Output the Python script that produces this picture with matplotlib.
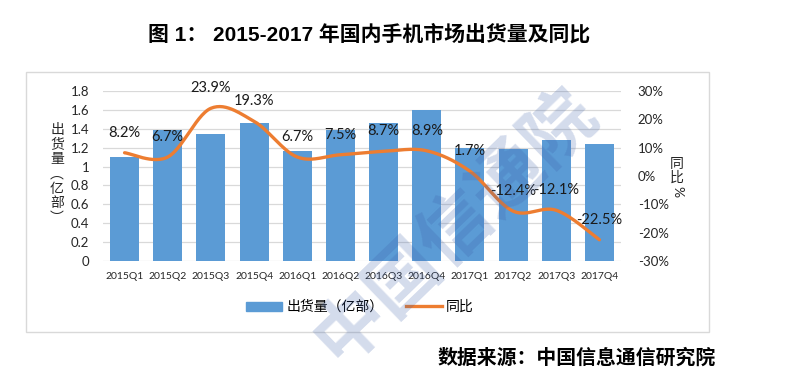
import matplotlib
matplotlib.use("Agg")
import matplotlib.pyplot as plt
import numpy as np
from matplotlib.patches import Rectangle
from matplotlib.lines import Line2D
from matplotlib.patches import Patch

plt.rcParams["font.family"] = ["Lato", "Noto Sans CJK SC", "DejaVu Sans"]

# data
quarters = ["2015Q1", "2015Q2", "2015Q3", "2015Q4", "2016Q1", "2016Q2",
            "2016Q3", "2016Q4", "2017Q1", "2017Q2", "2017Q3", "2017Q4"]
shipments = [1.10, 1.39, 1.345, 1.465, 1.16, 1.39, 1.465, 1.60, 1.20, 1.19, 1.28, 1.24]
yoy = [8.2, 6.7, 23.9, 19.3, 6.7, 7.5, 8.7, 8.9, 1.7, -12.4, -12.1, -22.5]
left_ticks = [0, 0.2, 0.4, 0.6, 0.8, 1.0, 1.2, 1.4, 1.6, 1.8]
left_labels = ["0", "0.2", "0.4", "0.6", "0.8", "1", "1.2", "1.4", "1.6", "1.8"]
right_ticks = [-30, -20, -10, 0, 10, 20, 30]
right_labels = ["-30%", "-20%", "-10%", "0%", "10%", "20%", "30%"]

BLUE = "#5B9BD5"
ORANGE = "#ED7D31"
GRID = "#d9d9d9"
W, H = 787, 379


def smooth(xs, ys, n=30):
    """Excel-style smoothed line: cubic bezier segments with 1/6 tangents."""
    p = np.column_stack([xs, ys]).astype(float)
    pts = []
    for i in range(len(p) - 1):
        p0 = p[max(i - 1, 0)]
        p1 = p[i]
        p2 = p[i + 1]
        p3 = p[min(i + 2, len(p) - 1)]
        c1 = p1 + (p2 - p0) / 6
        c2 = p2 - (p3 - p1) / 6
        t = np.linspace(0, 1, n)[:, None]
        seg = ((1 - t) ** 3 * p1 + 3 * (1 - t) ** 2 * t * c1
               + 3 * (1 - t) * t ** 2 * c2 + t ** 3 * p2)
        pts.append(seg if i == 0 else seg[1:])
    pts = np.vstack(pts)
    return pts[:, 0], pts[:, 1]


fig = plt.figure(figsize=(W / 100, H / 100), dpi=100)

# light frame around chart
fig.patches.append(Rectangle((26 / W, 1 - 332 / H), (709 - 26) / W, (332 - 72) / H,
                             transform=fig.transFigure, fill=False,
                             edgecolor=GRID, lw=1.0))

ax = fig.add_axes([103 / W, 1 - 261 / H, 518 / W, 170 / H])
x = np.arange(len(quarters))
ax.bar(x, shipments, width=0.67, color=BLUE, zorder=2)
ax.set_xlim(-0.5, len(quarters) - 0.5)
ax.set_ylim(0, 1.8)
ax.set_yticks(left_ticks)
ax.set_yticklabels(left_labels, fontsize=9.5)
ax.set_xticks(x)
ax.set_xticklabels(quarters, fontsize=7.5)
ax.tick_params(axis="both", length=0, colors="#262626")
ax.tick_params(axis="y", pad=10)
ax.tick_params(axis="x", pad=8)
ax.grid(axis="y", color=GRID, lw=0.9, zorder=0)
ax.set_axisbelow(True)
for s in ax.spines.values():
    s.set_visible(False)

ax2 = ax.twinx()
ax2.set_ylim(-30, 30)
sx, sy = smooth(x, yoy)
ax2.plot(sx, sy, color=ORANGE, lw=2.4, solid_capstyle="round", zorder=3)
ax2.set_yticks(right_ticks)
ax2.set_yticklabels(right_labels, fontsize=9.5)
ax2.tick_params(axis="y", length=0, pad=12, colors="#262626")
for s in ax2.spines.values():
    s.set_visible(False)
for xi, v in zip(x, yoy):
    ax2.annotate(f"{v}%", (xi, v), xytext=(0, 14.5), textcoords="offset points",
                 ha="center", va="center", fontsize=10.5, color="#1a1a1a", zorder=4)

# axis titles, stacked vertically like the original
fig.text(57 / W, 1 - 174 / H, "出\n货\n量\n︵\n亿\n部\n︶", ha="center", va="center",
         fontsize=10, linespacing=1.05, family=["Noto Sans CJK SC"], color="#262626")
fig.text(677 / W, 1 - 171 / H, "同\n比", ha="center", va="center",
         fontsize=10, linespacing=1.0, family=["Noto Sans CJK SC"], color="#262626")
fig.text(677 / W, 1 - 192 / H, "%", ha="center", va="center", rotation=-90,
         fontsize=10, color="#262626")

# legend
handles = [Patch(color=BLUE), Line2D([], [], color=ORANGE, lw=2.4)]
fig.legend(handles, ["出货量（亿部）", "同比"], loc="center", bbox_to_anchor=(360 / W, 1 - 307 / H),
           ncol=2, frameon=False, handlelength=2.6, handleheight=0.6,
           handletextpad=0.3, columnspacing=1.6,
           prop={"family": ["Noto Sans CJK SC"], "size": 10})

# watermark
fig.text(455 / W, 1 - 226 / H, "中国信通院", ha="center", va="center", rotation=44,
         fontsize=52, fontweight="bold", color="#3b5ea8", alpha=0.22,
         family=["Noto Sans CJK SC"], zorder=10)

# title and source
fig.text(369 / W, 1 - 34 / H, "图 1： 2015-2017 年国内手机市场出货量及同比", ha="center", va="center",
         fontsize=15, fontweight="bold", family=["Liberation Sans", "Noto Sans CJK SC"])
fig.text(716 / W, 1 - 357 / H, "数据来源：中国信息通信研究院", ha="right", va="center",
         fontsize=14.3, fontweight="bold", family=["Noto Sans CJK SC"])

fig.savefig("out.png", dpi=100)
